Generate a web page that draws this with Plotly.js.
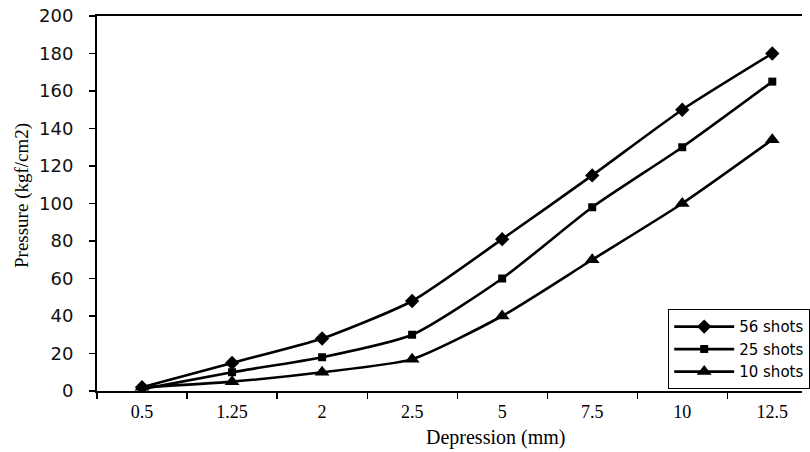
<!DOCTYPE html>
<html><head><meta charset="utf-8">
<script src="https://cdn.plot.ly/plotly-3.0.1.min.js"></script>
<style>html,body{margin:0;padding:0;background:#fff}</style>
</head><body><div id="chart" style="width:810px;height:452px"></div>
<script>
const categories = ["0.5","1.25","2","2.5","5","7.5","10","12.5"];
const shots56 = [2, 15, 28, 48, 81, 115, 150, 180];
const shots25 = [1, 10, 18, 30, 60, 98, 130, 165];
const shots10 = [2, 5, 10, 17, 40, 70, 100, 134];
const seriesNames = ["56 shots","25 shots","10 shots"];

function tr(y, name, sym, size){
  return {x: categories, y: y, name: name, type: "scatter", mode: "lines+markers",
    line: {color: "#000", width: 2.6, shape: "spline", smoothing: 0.6},
    marker: {symbol: sym, size: size, color: "#000"}};
}
const data = [
  tr(shots56, seriesNames[0], "diamond", 11),
  tr(shots25, seriesNames[1], "square", 8),
  tr(shots10, seriesNames[2], "triangle-up", 13)
];
const layout = {
  width: 810, height: 452,
  margin: {l: 97, r: 0, t: 16, b: 61},
  paper_bgcolor: "#fff", plot_bgcolor: "#fff",
  showlegend: true,
  legend: {x: 1.012, xanchor: "right", y: 0.005, yanchor: "bottom",
    bordercolor: "#000", borderwidth: 1.2, bgcolor: "#fff",
    font: {family: "DejaVu Sans", size: 15, color: "#000"},
    tracegroupgap: 0, itemwidth: 60},
  xaxis: {type: "category", range: [-0.5, 7.33], tickson: "boundaries",
    ticks: "outside", ticklen: 6, tickcolor: "#000", tickwidth: 1.2,
    ticklabelstandoff: 3,
    showline: true, linecolor: "#000", linewidth: 2, mirror: true,
    showgrid: false, zeroline: false,
    tickfont: {family: "Liberation Serif, Times New Roman", size: 18, color: "#000"}},
  yaxis: {range: [0, 200], dtick: 20, ticks: "outside", ticklen: 6, tickcolor: "#000",
    tickwidth: 1.2, ticklabelstandoff: 12,
    showline: true, linecolor: "#000", linewidth: 2, showgrid: false, zeroline: false,
    tickfont: {family: "DejaVu Sans", size: 18, color: "#111"}},
  annotations: [
    {text: "Depression (mm)", xref: "paper", yref: "paper",
     x: 0.565, y: 0, yshift: -46, xanchor: "center", yanchor: "middle", showarrow: false,
     font: {family: "Liberation Serif, Times New Roman", size: 20, color: "#000"}},
    {text: "Pressure (kgf/cm2)", xref: "paper", yref: "paper", textangle: -90,
     x: 0, xshift: -75, y: 0.52, xanchor: "center", yanchor: "middle", showarrow: false,
     font: {family: "Liberation Serif, Times New Roman", size: 19, color: "#000"}}
  ]
};
Plotly.newPlot("chart", data, layout, {displayModeBar: false, staticPlot: true});
</script></body></html>
